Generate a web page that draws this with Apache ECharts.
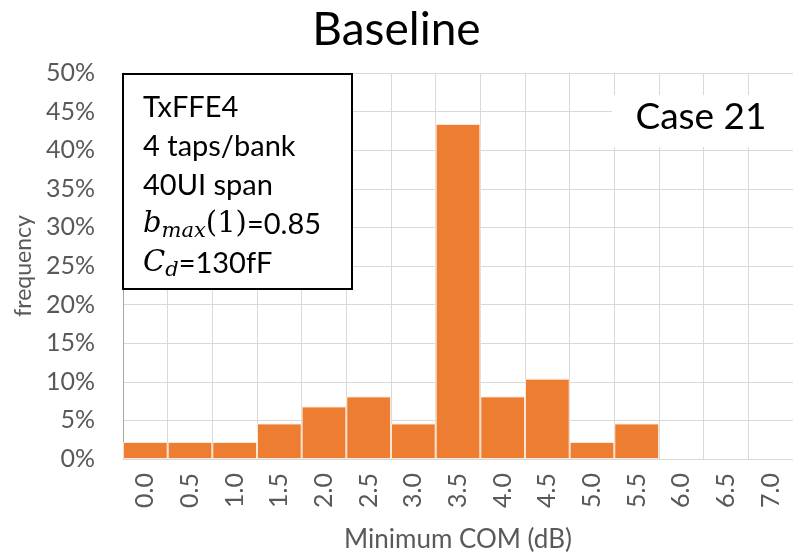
<!DOCTYPE html>
<html>
<head>
<meta charset="utf-8">
<script src="https://cdn.jsdelivr.net/npm/echarts@6/dist/echarts.min.js"></script>
<style>
html,body{margin:0;padding:0;background:#fff;}
#c{width:793px;height:558px;}
</style>
</head>
<body>
<div id="c"></div>
<script>
const categories = ['0.0','0.5','1.0','1.5','2.0','2.5','3.0','3.5','4.0','4.5','5.0','5.5','6.0','6.5','7.0'];
const frequency = [2.2, 2.2, 2.2, 4.6, 6.8, 8.1, 4.6, 43.4, 8.1, 10.4, 2.2, 4.6, 0, 0, 0];
const yTicks = {min: 0, max: 50, interval: 5};
const titleText = 'Baseline';
const caseText = 'Case 21';

const FONT = 'Lato';
const chart = echarts.init(document.getElementById('c'));
chart.setOption({
  animation: false,
  backgroundColor: '#fff',
  title: {
    text: titleText, left: 'center', top: 2,
    textStyle: {fontFamily: FONT, fontSize: 46, fontWeight: 'normal', color: '#000'}
  },
  grid: {left: 123, right: -2, top: 73, bottom: 98},
  xAxis: {
    type: 'category', data: categories,
    name: 'Minimum COM (dB)', nameLocation: 'middle', nameGap: 68,
    nameTextStyle: {fontFamily: FONT, fontSize: 26, color: '#595959'},
    axisLine: {show: true, lineStyle: {color: '#d9d9d9'}},
    axisTick: {show: false},
    splitLine: {show: true, lineStyle: {color: '#d9d9d9'}},
    axisLabel: {rotate: 90, fontFamily: FONT, fontSize: 25, color: '#595959', margin: 14}
  },
  yAxis: {
    type: 'value', min: yTicks.min, max: yTicks.max, interval: yTicks.interval,
    name: 'frequency', nameLocation: 'middle', nameGap: 88, nameRotate: 90,
    nameTextStyle: {fontFamily: FONT, fontSize: 23, color: '#595959'},
    axisLine: {show: true, lineStyle: {color: '#a6a6a6'}},
    axisTick: {show: false},
    splitLine: {show: true, lineStyle: {color: '#d9d9d9'}},
    axisLabel: {formatter: '{value}%', fontFamily: FONT, fontSize: 25, color: '#595959', margin: 28}
  },
  series: [{
    type: 'bar', data: frequency.map(v => (v === 0 ? null : v)), barCategoryGap: '0%',
    itemStyle: {color: '#ED7D31', borderColor: 'rgba(255,235,220,0.9)', borderWidth: 1}
  }],
  graphic: [
    {type: 'rect', shape: {x: 123, y: 74, width: 229, height: 215}, z: 100,
     style: {fill: '#fff', stroke: '#000', lineWidth: 2}},
    {type: 'text', left: 143, top: 88, z: 101,
     style: {
       text: 'TxFFE4\n4 taps/bank\n40UI span\n{bi|b}{sub|max}{pr|(1)}=0.85\n{bi|C}{sub|d}=130fF',
       font: '29px Lato', fill: '#000', lineHeight: 39,
       rich: {
         bi: {fontFamily: 'DejaVu Serif', fontStyle: 'italic', fontSize: 29, fill: '#000', lineHeight: 39},
         sub: {fontFamily: 'DejaVu Serif', fontStyle: 'italic', fontSize: 21, fill: '#000', padding: [14, 0, 0, 0], lineHeight: 39},
         pr: {fontFamily: 'DejaVu Serif', fontSize: 29, fill: '#000', lineHeight: 39}
       }
     }},
    {type: 'rect', shape: {x: 612, y: 95, width: 181, height: 52}, z: 100,
     style: {fill: '#fff'}},
    {type: 'text', x: 701, y: 117, z: 101,
     style: {text: caseText, font: '37px Lato', fill: '#000', textAlign: 'center', textVerticalAlign: 'middle'}}
  ]
});
</script>
</body>
</html>
